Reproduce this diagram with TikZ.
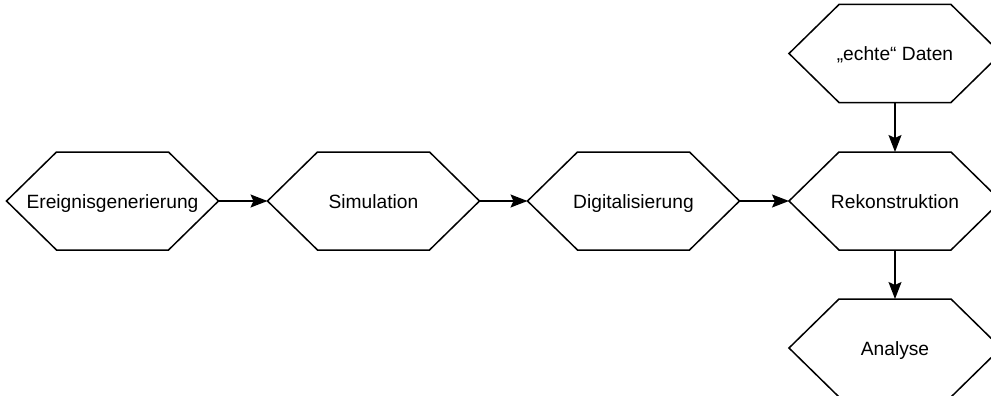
\documentclass[tikz,border=0pt]{standalone}
\usepackage{fontspec}
\setmainfont{Liberation Sans}
\usetikzlibrary{arrows.meta}
\tikzset{
  hexbox/.style={minimum width=212pt, minimum height=98pt, inner sep=0pt, outer sep=0pt, text height=17pt, text depth=2pt, font=\fontsize{19.2}{23}\selectfont},
  hexline/.style={line width=1.5pt, line join=miter},
  flow/.style={line width=1.5pt, -{Stealth[length=17pt, width=13pt, inset=3pt]}}
}
\newcommand\hexnode[3]{%
  \node[hexbox] (#1) at #2 {#3};
  \draw[hexline] (#1.west) -- ([xshift=50pt]#1.north west) -- ([xshift=-50pt]#1.north east) -- (#1.east) -- ([xshift=-50pt]#1.south east) -- ([xshift=50pt]#1.south west) -- cycle;}
\begin{document}
\begin{tikzpicture}[x=1pt, y=-1pt]
\useasboundingbox (0,0) rectangle (991,396);
\clip (0,0) rectangle (991,396);
\hexnode{ereig}{(112.5,201)}{Ereignisgenerierung}
\hexnode{sim}{(373.5,201)}{Simulation}
\hexnode{dig}{(633.5,201)}{Digitalisierung}
\hexnode{rek}{(895,201)}{Rekonstruktion}
\hexnode{echt}{(895,53.5)}{„echte“ Daten}
\hexnode{ana}{(895,348)}{Analyse}
\draw[flow] (ereig.east) -- (sim.west);
\draw[flow] (sim.east) -- (dig.west);
\draw[flow] (dig.east) -- (rek.west);
\draw[flow] (echt.south) -- (rek.north);
\draw[flow] (rek.south) -- (ana.north);
\end{tikzpicture}
\end{document}
